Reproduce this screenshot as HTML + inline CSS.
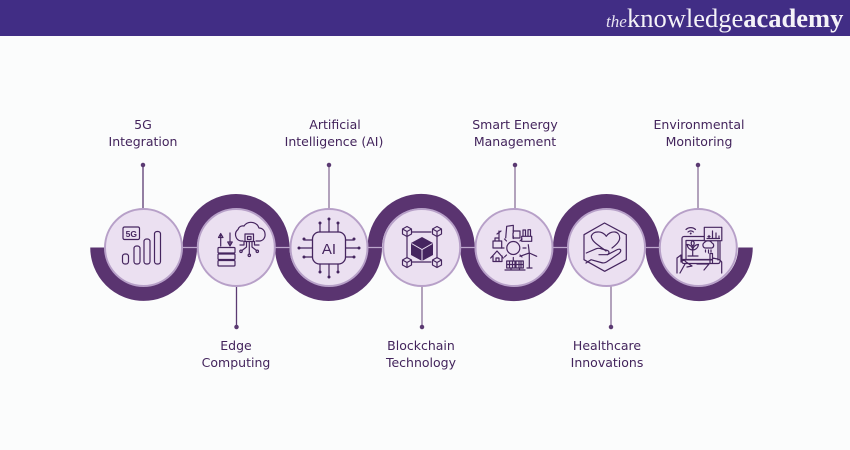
<!DOCTYPE html>
<html><head><meta charset="utf-8"><style>
html,body{margin:0;padding:0;background:#fbfcfc}
svg{display:block}
.l{font-family:"DejaVu Sans",sans-serif;font-size:12.5px;fill:#43245c;text-anchor:middle}
.i{fill:none;stroke:#45255f;stroke-width:1.2;stroke-linejoin:round;stroke-linecap:round}
.f{fill:#45255f;stroke:none}
</style></head><body>
<svg width="850" height="450" viewBox="0 0 850 450" xmlns="http://www.w3.org/2000/svg">
<rect width="850" height="450" fill="#fbfcfc"/>
<rect width="850" height="36" fill="#412d85"/>
<text x="606" y="27" font-size="17" font-style="italic" style="font-family:'Liberation Serif',serif" fill="#e8e4f2">the</text>
<text x="627" y="27" font-size="26.500" style="font-family:'Liberation Serif',serif" fill="#f4f2f8">knowledge<tspan font-weight="bold">academy</tspan></text>

<path d="M97.500 247.500A46 46 0 0 0 189.750 247.500A46.250 46.250 0 0 1 282.250 247.500A46.250 46.250 0 0 0 374.750 247.500A46.250 46.250 0 0 1 467.500 247.500A46.250 46.250 0 0 0 560.250 247.500A46.250 46.250 0 0 1 652.750 247.500A46.250 46.250 0 0 0 745.500 247.500" fill="none" stroke="#5a3470" stroke-width="14.500"/>
<path d="M180 247.500H710" stroke="#bda6cc" stroke-width="1.300"/>

<g stroke="#5b3a72" stroke-width="1.300" fill="#5b3a72">
<path d="M143 165V209M236.500 286V327" fill="none"/>
<path d="M329 165V209M515 165V209M698 165V209M422 286V327M611 286V327" fill="none" stroke="#8a7199"/>
<circle cx="143" cy="165" r="1.600"/><circle cx="329" cy="165" r="1.600"/><circle cx="515" cy="165" r="1.600"/><circle cx="698" cy="165" r="1.600"/>
<circle cx="236.500" cy="327" r="1.600"/><circle cx="422" cy="327" r="1.600"/><circle cx="611" cy="327" r="1.600"/>
</g>

<g fill="#ebe0f1" stroke="#b7a0c8" stroke-width="2">
<circle cx="143.500" cy="247.500" r="38.500"/><circle cx="236.300" cy="247.500" r="38.500"/><circle cx="329" cy="247.500" r="38.500"/><circle cx="421.700" cy="247.500" r="38.500"/><circle cx="514" cy="247.500" r="38.500"/><circle cx="606.500" cy="247.500" r="38.500"/><circle cx="698.300" cy="247.500" r="38.500"/>
</g>

<!-- 5G -->
<g class="i">
<rect x="123" y="227" width="16.500" height="12.500" rx="1.500"/>
<rect x="122.500" y="254" width="6" height="10" rx="2.500"/><rect x="134" y="246" width="6" height="18" rx="2.500"/><rect x="144" y="239" width="6" height="25" rx="2.500"/><rect x="154.500" y="231.500" width="6" height="32.500" rx="2.500"/>
</g>
<text x="131.300" y="237" font-size="8.500" font-weight="bold" text-anchor="middle" fill="#45255f" style="font-family:'Liberation Sans',sans-serif">5G</text>

<!-- Edge -->
<g class="i">
<path d="M220.700 246V235M218.500 237.500L220.700 233.500L223 237.500ZM230 233V244M227.700 242L230 246L232.300 242Z"/>
<rect x="218" y="247.500" width="17" height="5.500" rx="1"/><rect x="218" y="254" width="17" height="5.500" rx="1"/><rect x="218" y="260.500" width="17" height="5.500" rx="1"/>
<path d="M243 241H241A6.500 6.500 0 0 1 238 229.500A5 5 0 0 1 244 226A8.500 8.500 0 0 1 259 228A6 6 0 0 1 265 234A6 6 0 0 1 260 241H256"/>
<rect x="245" y="234" width="8.500" height="7.500"/><rect x="247.500" y="236.500" width="3.500" height="3"/>
<path d="M249.300 241.500V254M246.500 241.500V247L242 250.500M252 241.500V247L256.500 250.500M244 241.500V245L240 245M254.500 241.500V245L259 245"/>
<circle cx="249.300" cy="255.300" r="1.200"/><circle cx="241" cy="251.300" r="1.200"/><circle cx="257.300" cy="251.300" r="1.200"/>
</g>

<!-- AI -->
<g class="i">
<rect x="312.500" y="232" width="33" height="32" rx="7" stroke-width="1.300"/>
<path d="M329 232V219M320 232V223M338 232V223M329 264V277M320 264V272M338 264V272M312 248H299M312 240H304M312 257H304M346 248H359M346 240H354M346 257H354"/>
</g>
<g class="f">
<circle cx="329" cy="219" r="1.500"/><circle cx="320" cy="223" r="1.500"/><circle cx="338" cy="223" r="1.500"/><circle cx="329" cy="277" r="1.500"/><circle cx="320" cy="272" r="1.500"/><circle cx="338" cy="272" r="1.500"/><circle cx="299" cy="248" r="1.500"/><circle cx="304" cy="239" r="1.500"/><circle cx="304" cy="257" r="1.500"/><circle cx="359" cy="248" r="1.500"/><circle cx="354" cy="239" r="1.500"/><circle cx="354" cy="257" r="1.500"/>
</g>
<text x="329" y="254" font-size="15" text-anchor="middle" fill="#45255f" style="font-family:'Liberation Sans',sans-serif">AI</text>

<!-- Blockchain -->
<g class="i" stroke-width="1.300">
<path d="M412 232H431M412 262H431M407 236V258M437 236V258"/>
<path d="M407 226.500l4.500 2.500v5l-4.500 2.500l-4.500-2.500v-5zM402.500 229l4.500 2.500l4.500-2.500M407 231.500v5"/>
<path d="M437 226.500l4.500 2.500v5l-4.500 2.500l-4.500-2.500v-5zM432.500 229l4.500 2.500l4.500-2.500M437 231.500v5"/>
<path d="M407 257.500l4.500 2.500v5l-4.500 2.500l-4.500-2.500v-5zM402.500 260l4.500 2.500l4.500-2.500M407 262.500v5"/>
<path d="M437 257.500l4.500 2.500v5l-4.500 2.500l-4.500-2.500v-5zM432.500 260l4.500 2.500l4.500-2.500M437 262.500v5"/>
</g>
<path d="M422 237L433 243V255L422 261L411 255V243Z" fill="#45255f"/>
<path d="M411.500 243.500L422 249.500L432.500 243.500M422 249.500V261" fill="none" stroke="#ebe0f1" stroke-width="1"/>

<!-- Energy -->
<g class="i">
<circle cx="513.300" cy="248" r="6.500"/>
<path d="M513.300 238.500V236M513.300 257.500V260M504 248H501M523 248H526M506.500 241L504.500 239M520 241L522 239M506.500 255L504.500 257M520 255L522 257"/>
<path d="M505.700 238L506.700 226.300L513.300 225.300L513.300 233M513 233V238H520V231H513"/>
<rect x="521.700" y="236.300" width="10" height="5"/>
<path d="M523 236V230H525.500V236M528 236V229.700H530.500V236"/>
<rect x="493" y="241" width="8.700" height="7"/>
<path d="M499 241V231M497 234L501 231M495 241V238H498"/>
<path d="M490.700 258L497 251L503.300 258M493 256V261.500H502V256M496 261.500V258H499V261.500"/>
<path d="M529.300 268V253M529.300 253L528.300 244.700M529.300 253L520 256.300M529.300 253L536.700 256.300M527 268H532"/>
<path d="M506.700 261H515V268H506.700ZM516 261H523.300V268H516ZM509.500 261V268M512.500 261V268M519 261V268M521 261V268M506.700 264.500H523.300M511 268V270M519.500 268V270M505 270H525"/>
</g>

<!-- Healthcare -->
<g class="i" stroke-width="1.500">
<path d="M604.500 223L626.300 234.700V259.700L604.700 271.300L584 259.700V234.700Z"/>
<path d="M606 251C600 246 591.300 242 591.300 236A6.500 6.500 0 0 1 597.500 232C601 231.500 604.500 233.500 606.300 236.300C608 233.500 611.500 231.500 615 232C618 232.500 619.700 235 619.700 238C619.700 241.500 616 245 612 248"/>
<path d="M586.300 253L596.300 248.700C598 248 600 248.300 602 249L607.500 250.500C610 251.500 609 254.700 606.500 254.700H599M607.500 254.700L616.500 250C619 248.700 621 249 620.700 251C620.500 252.500 619 253.500 617.500 254.500L606.500 262C604.500 263.200 603 263.200 601 262.500L591 259.700L586 263"/>
</g>

<!-- Environmental -->
<g class="i">
<rect x="682" y="236.500" width="38" height="27" rx="2"/>
<path d="M686 260V240.500H718V260"/>
<path d="M692.700 256V246M692.700 250C689.500 250 687.500 247.500 687 244.500C690 244.500 692.700 247 692.700 250ZM692.700 250C696 250 698 247.500 698.500 244.500C695.500 244.500 692.700 247 692.700 250ZM692.700 246C690.700 244.500 690.700 242 692.700 240.500C694.700 242 694.700 244.500 692.700 246ZM688 256H698"/>
<path d="M705 248A3 3 0 0 1 704.500 242.500A4.500 4.500 0 0 1 712 243A2.700 2.700 0 0 1 712 248ZM705.500 250V252M708.500 250V253M711 250V252"/>
<rect x="704.300" y="227.300" width="17.500" height="13.400" fill="#ebe0f1"/>
<path d="M707 238.500H719.500M709 238.500V235.500M712.500 238.500V231M716 238.500V233M719 238.500V236M708 236.500H710"/>
<path d="M686 229.500A7 7 0 0 1 695.500 229.500M688 232A4 4 0 0 1 693.500 232"/>
<path d="M682 259.700H712" stroke-width="1.600"/>
<path d="M677 273V258L681 255V262L684 259.700L686 262L692 266L687 267M685 264L680 273M710 263V253.500H712.500V263M712.500 258L715 258.500L717.500 259L720 260L721.700 262V273M697 264H709L704 270"/>
</g>
<circle cx="690.700" cy="233.500" r="1" class="f"/>

<text class="l"><tspan x="143" y="129">5G</tspan><tspan x="143" y="146">Integration</tspan></text>
<text class="l"><tspan x="335" y="129">Artificial</tspan><tspan x="334" y="146">Intelligence (AI)</tspan></text>
<text class="l"><tspan x="515" y="129">Smart Energy</tspan><tspan x="515" y="146">Management</tspan></text>
<text class="l"><tspan x="699" y="129">Environmental</tspan><tspan x="699" y="146">Monitoring</tspan></text>
<text class="l"><tspan x="236" y="350">Edge</tspan><tspan x="236" y="367">Computing</tspan></text>
<text class="l"><tspan x="421" y="350">Blockchain</tspan><tspan x="421" y="367">Technology</tspan></text>
<text class="l"><tspan x="607" y="350">Healthcare</tspan><tspan x="607" y="367">Innovations</tspan></text>
</svg>
</body></html>
